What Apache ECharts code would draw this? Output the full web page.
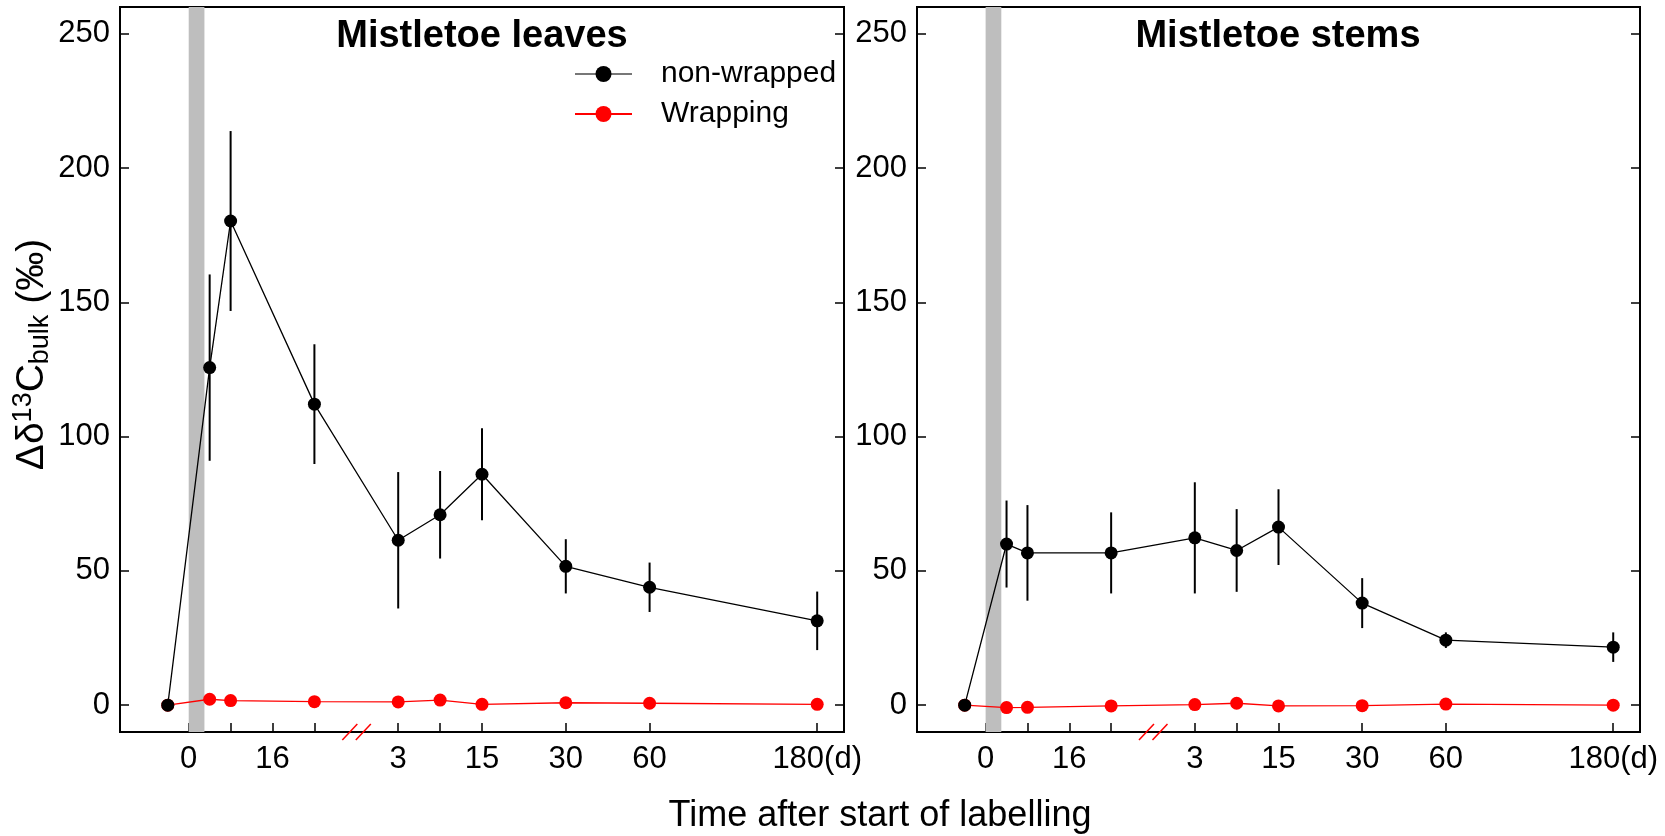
<!DOCTYPE html>
<html><head><meta charset="utf-8">
<script src="https://cdn.jsdelivr.net/npm/echarts@6/dist/echarts.min.js"></script>
<style>html,body{margin:0;padding:0;background:#fff}#c{width:1665px;height:836px}</style>
</head><body><div id="c"></div>
<script>
// ---- data ----
const timePositions = [-0.5, 0.5, 1, 3, 5, 6, 7, 9, 11, 15];
const leavesNonWrapped = [0, 125.7, 180.3, 112.1, 61.4, 70.9, 86.0, 51.7, 43.9, 31.4];
const leavesNonWrappedErr = [0, 34.7, 33.5, 22.3, 25.4, 16.3, 17.1, 10.1, 9.2, 10.9];
const leavesWrapping = [0, 2.2, 1.7, 1.3, 1.2, 1.9, 0.3, 0.9, 0.7, 0.3];
const stemsNonWrapped = [0, 60.0, 56.7, 56.7, 62.3, 57.6, 66.3, 38.0, 24.2, 21.6];
const stemsNonWrappedErr = [0, 16.2, 17.8, 15.1, 20.7, 15.4, 14.1, 9.3, 2.9, 5.5];
const stemsWrapping = [0, -0.9, -0.8, -0.3, 0.2, 0.7, -0.3, -0.2, 0.4, 0.0];
const yTicks = [0, 50, 100, 150, 200, 250];
const xTickPositions = [0, 1, 2, 3, 5, 6, 7, 9, 11, 15];
const xLabelPositions = [0, 2, 5, 7, 9, 11, 15];
const xLabelTexts = ['0', '16', '3', '15', '30', '60', '180(d)'];
const labellingPeriod = [0, 0.375];
const axisBreakAt = [4];
const panelTitles = ['Mistletoe leaves', 'Mistletoe stems'];
const seriesNames = ['non-wrapped', 'Wrapping'];
const xAxisTitle = 'Time after start of labelling';

const FONT = '"Liberation Sans", Arial, sans-serif';
const X_MIN = -1.64, X_MAX = 15.64, Y_MIN = -10, Y_MAX = 260;

const chart = echarts.init(document.getElementById('c'), null, {renderer: 'canvas'});

function xAxisFor(gi) {
  return {
    type: 'value', gridIndex: gi, min: X_MIN, max: X_MAX,
    axisLine: {show: true, onZero: false, lineStyle: {color: '#000', width: 2}},
    axisTick: {show: true, inside: true, length: 9, customValues: xTickPositions, lineStyle: {color: '#000', width: 1.5}},
    axisLabel: {show: true, customValues: xLabelPositions,
      formatter: v => { const i = xLabelPositions.indexOf(Math.round(v)); return i >= 0 ? xLabelTexts[i] : ''; },
      fontFamily: FONT, fontSize: 31, color: '#000', margin: 12},
    splitLine: {show: false}
  };
}
function yAxisFor(gi, pos, withLabels, withName) {
  const ax = {
    type: 'value', gridIndex: gi, position: pos, min: Y_MIN, max: Y_MAX,
    axisLine: {show: true, onZero: false, lineStyle: {color: '#000', width: 2}},
    axisTick: {show: true, inside: true, length: 9, customValues: yTicks, lineStyle: {color: '#000', width: 1.5}},
    axisLabel: {show: withLabels, customValues: yTicks, fontFamily: FONT, fontSize: 31, color: '#000', margin: 10},
    splitLine: {show: false}
  };
  if (withName) {
    ax.name = '{n|\u0394\u03b4}{sup|13}{n|C}{sub|bulk}{n| (\u2030)}';
    ax.nameLocation = 'middle';
    ax.nameRotate = 90;
    ax.nameGap = 47;
    ax.nameTextStyle = {
      fontFamily: FONT, fontSize: 39, color: '#000', padding: [0, 0, 0, 30],
      rich: {
        n: {fontFamily: FONT, fontSize: 39, color: '#000', lineHeight: 44},
        sup: {fontFamily: FONT, fontSize: 27, color: '#000', verticalAlign: 'top', lineHeight: 44},
        sub: {fontFamily: FONT, fontSize: 27, color: '#000', verticalAlign: 'bottom', lineHeight: 44}
      }
    };
  }
  return ax;
}

const panels = [
  {nw: leavesNonWrapped, nwErr: leavesNonWrappedErr, w: leavesWrapping},
  {nw: stemsNonWrapped, nwErr: stemsNonWrappedErr, w: stemsWrapping}
];

const series = [];
panels.forEach((p, gi) => {
  const xi = gi, yi = gi * 2;
  // labelling period band
  series.push({
    type: 'custom', xAxisIndex: xi, yAxisIndex: yi, z: 1, silent: true,
    data: [labellingPeriod],
    renderItem: (params, api) => {
      const a = api.coord([api.value(0), Y_MAX]);
      const b = api.coord([api.value(1), Y_MIN]);
      return {type: 'rect', shape: {x: a[0], y: a[1], width: b[0] - a[0], height: b[1] - a[1]}, style: {fill: '#bebebe'}};
    }
  });
  // error bars
  series.push({
    type: 'custom', xAxisIndex: xi, yAxisIndex: yi, z: 2, silent: true,
    data: timePositions.map((t, i) => [t, p.nw[i] - p.nwErr[i], p.nw[i] + p.nwErr[i]]).filter((d, i) => p.nwErr[i] > 0),
    renderItem: (params, api) => {
      const lo = api.coord([api.value(0), api.value(1)]);
      const hi = api.coord([api.value(0), api.value(2)]);
      return {type: 'line', shape: {x1: lo[0], y1: lo[1], x2: hi[0], y2: hi[1]}, style: {stroke: '#000', lineWidth: 2}};
    }
  });
  // wrapping
  series.push({
    name: seriesNames[1], type: 'line', xAxisIndex: xi, yAxisIndex: yi, z: 3,
    data: timePositions.map((t, i) => [t, p.w[i]]),
    symbol: 'circle', symbolSize: 13, showSymbol: true,
    itemStyle: {color: '#ff0000'}, lineStyle: {color: '#ff0000', width: 1.3}
  });
  // non-wrapped
  series.push({
    name: seriesNames[0], type: 'line', xAxisIndex: xi, yAxisIndex: yi, z: 4,
    data: timePositions.map((t, i) => [t, p.nw[i]]),
    symbol: 'circle', symbolSize: 13, showSymbol: true,
    itemStyle: {color: '#000000'}, lineStyle: {color: '#000000', width: 1.3}
  });
  // axis break marks
  series.push({
    type: 'custom', xAxisIndex: xi, yAxisIndex: yi, z: 5, silent: true, clip: false,
    data: [axisBreakAt],
    renderItem: (params, api) => {
      const c = api.coord([api.value(0), Y_MIN]);
      const mk = dx => ({type: 'line', shape: {x1: c[0] + dx - 7.5, y1: c[1] + 8, x2: c[0] + dx + 7.5, y2: c[1] - 8}, style: {stroke: '#ff0000', lineWidth: 1.5}});
      return {type: 'group', children: [mk(-6.5), mk(7)]};
    }
  });
});

chart.setOption({
  animation: false,
  backgroundColor: '#fff',
  title: [
    {text: panelTitles[0], left: 482, top: 18, textAlign: 'center', padding: 0, textStyle: {fontFamily: FONT, fontSize: 38, fontWeight: 'bold', color: '#000'}},
    {text: panelTitles[1], left: 1278, top: 18, textAlign: 'center', padding: 0, textStyle: {fontFamily: FONT, fontSize: 38, fontWeight: 'bold', color: '#000'}}
  ],
  legend: {
    orient: 'vertical', left: 574, top: 59, padding: 0, itemWidth: 57, itemHeight: 20, itemGap: 10,
    selectedMode: false,
    data: [{name: seriesNames[0], lineStyle: {color: '#777'}}, {name: seriesNames[1]}],
    textStyle: {fontFamily: FONT, fontSize: 30, color: '#000', padding: [0, 0, 0, 24]}
  },
  grid: [
    {left: 120, top: 7, width: 724, height: 725, show: true, borderColor: '#000', borderWidth: 2, backgroundColor: 'transparent'},
    {left: 917, top: 7, width: 723, height: 725, show: true, borderColor: '#000', borderWidth: 2, backgroundColor: 'transparent'}
  ],
  xAxis: [xAxisFor(0), xAxisFor(1)],
  yAxis: [yAxisFor(0, 'left', true, true), yAxisFor(0, 'right', false, false), yAxisFor(1, 'left', true, false), yAxisFor(1, 'right', false, false)],
  graphic: [
    {type: 'text', x: 880, y: 816, silent: true,
     style: {text: xAxisTitle, x: 0, y: 0, align: 'center', verticalAlign: 'middle', font: '36px ' + FONT, fill: '#000'}}
  ],
  series: series
});
</script>
</body></html>
